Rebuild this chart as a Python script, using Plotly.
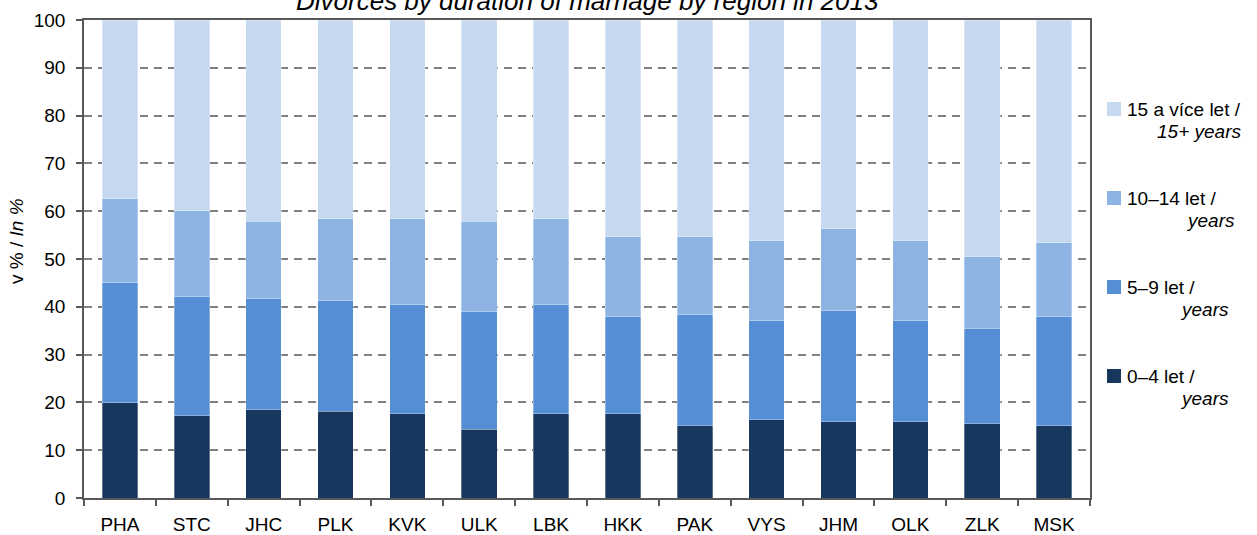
import plotly.graph_objects as go

regions = ["PHA", "STC", "JHC", "PLK", "KVK", "ULK", "LBK", "HKK", "PAK", "VYS", "JHM", "OLK", "ZLK", "MSK"]
d0_4 = [19.9, 17.2, 18.5, 18.1, 17.6, 14.4, 17.6, 17.6, 15.1, 16.4, 16.0, 16.0, 15.5, 15.1]
d5_9 = [25.1, 24.9, 23.2, 23.2, 22.8, 24.7, 22.8, 20.3, 23.3, 20.7, 23.2, 21.1, 20.0, 22.8]
d10_14 = [17.6, 18.0, 16.2, 17.1, 18.0, 18.8, 18.0, 16.8, 16.3, 16.7, 17.1, 16.7, 15.0, 15.5]
d15 = [round(100 - a - b - c, 1) for a, b, c in zip(d0_4, d5_9, d10_14)]

series = [
    ("0–4 let /", "years", d0_4, "#17375E"),
    ("5–9 let /", "years", d5_9, "#558ED5"),
    ("10–14 let /", "years", d10_14, "#8EB4E3"),
    ("15 a více let /", "15+ years", d15, "#C6D9F1"),
]
title_text = "Divorces by duration of marriage by region in 2013"
yticks = list(range(0, 101, 10))

W, H = 1257, 535
L, R, T, B = 84, 1090, 20, 498

def px(x):
    return (x - L) / (R - L)

def py(y):
    return (B - y) / (B - T)

FONT = "Liberation Sans, Arial, sans-serif"
fig = go.Figure()
for name, sub, vals, col in series:
    fig.add_trace(go.Bar(x=regions, y=vals, name=name, marker=dict(color=col, line=dict(width=0.6, color="rgba(255,255,255,0.5)")), showlegend=False))

fig.update_layout(
    barmode="stack", bargap=0.505,
    width=W, height=H,
    margin=dict(l=L, r=W - R, t=T, b=H - B, autoexpand=False),
    plot_bgcolor="white", paper_bgcolor="white",
    font=dict(family=FONT, size=19, color="#000000"),
)
fig.update_xaxes(
    showline=True, linecolor="#595959", linewidth=1.5, mirror=True,
    ticks="outside", tickson="boundaries", ticklen=6, tickcolor="#595959", tickwidth=1.5,
    showgrid=False, tickfont=dict(size=19), ticklabelstandoff=8,
)
fig.update_yaxes(
    range=[0, 100], tickvals=yticks, showline=True, linecolor="#595959", linewidth=1.5, mirror=True,
    ticks="outside", ticklen=6, tickcolor="#595959", tickwidth=1.5,
    showgrid=True, gridcolor="#808080", gridwidth=1.5, griddash="8px,6px",
    tickfont=dict(size=19), ticklabelstandoff=7, zeroline=False,
)

ann = []
ann.append(dict(text="v % / <i>In %</i>", x=px(17), y=py(241), xref="paper", yref="paper",
                textangle=-90, showarrow=False, font=dict(size=19), xanchor="center", yanchor="middle"))
ann.append(dict(text="<i>" + title_text + "</i>", x=0.5, y=py(18), xref="paper", yref="paper",
                showarrow=False, font=dict(size=26), xanchor="center", yanchor="bottom"))

legend_y = [376, 287, 198, 109]
legend_r = [1231, 1231, 1237, 1243]
shapes = []
for (name, sub, vals, col), ly, rr in zip(series, legend_y, legend_r):
    shapes.append(dict(type="rect", xref="paper", yref="paper", x0=px(1107), x1=px(1121), y0=py(ly + 7), y1=py(ly - 7),
                       fillcolor=col, line=dict(width=0)))
    ann.append(dict(text=name, x=px(1125), y=py(ly), xref="paper", yref="paper", showarrow=False,
                    xanchor="left", yanchor="middle", font=dict(size=19)))
    ann.append(dict(text="<i>" + sub + "</i>", x=px(rr), y=py(ly + 22), xref="paper", yref="paper", showarrow=False,
                    xanchor="right", yanchor="middle", font=dict(size=19)))

fig.update_layout(annotations=ann, shapes=shapes)
fig.write_html("out.html", config={"displayModeBar": False},
               post_script="document.body.style.margin='0px';document.body.style.overflow='hidden';")
